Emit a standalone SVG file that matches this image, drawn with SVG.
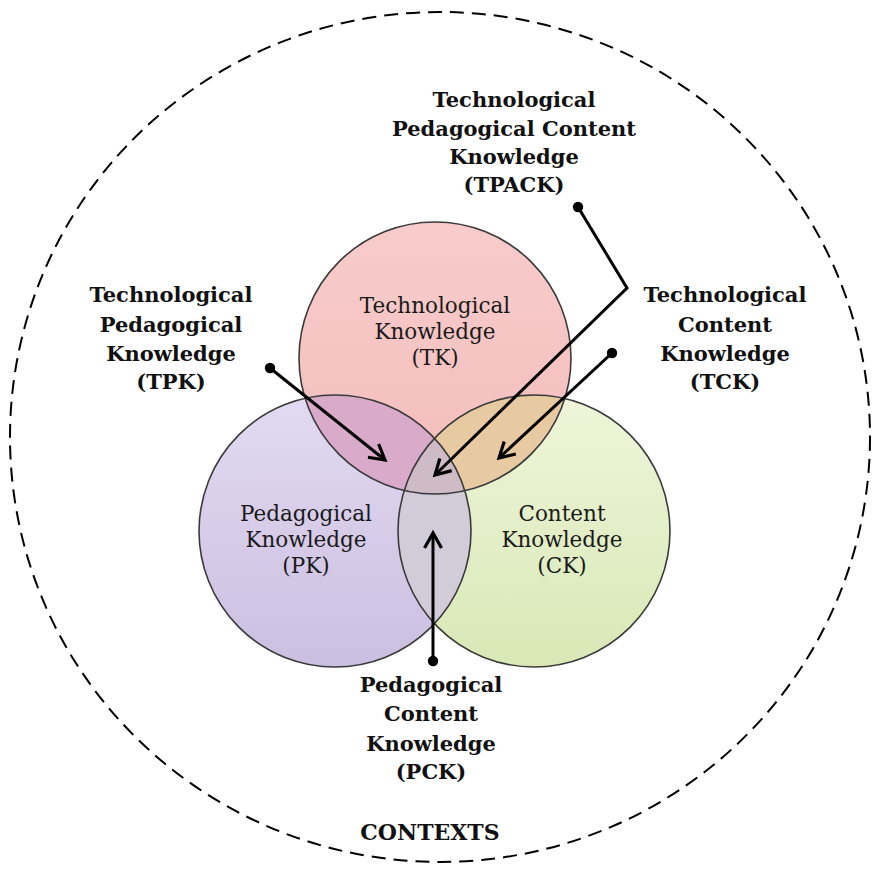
<svg xmlns="http://www.w3.org/2000/svg" width="892" height="870" viewBox="0 0 892 870">
<style>
.lbl{font-family:"DejaVu Serif","Liberation Serif",serif;font-weight:bold;font-size:21px;fill:#111;text-anchor:middle}
.in{font-family:"DejaVu Serif","Liberation Serif",serif;font-size:21.5px;fill:#1a1a1a;text-anchor:middle}
.ring{fill:none;stroke:#3a3a3a;stroke-width:1.6}
.con{fill:none;stroke:#000;stroke-width:3;stroke-linejoin:miter}
</style>
<defs>
<linearGradient id="gTK" x1="0" y1="0" x2="0" y2="1"><stop offset="0" stop-color="#f7cccb"/><stop offset="1" stop-color="#f3bdbb"/></linearGradient>
<linearGradient id="gPK" x1="0" y1="0" x2="0" y2="1"><stop offset="0" stop-color="#e2daf2"/><stop offset="1" stop-color="#cbbfe0"/></linearGradient>
<linearGradient id="gCK" x1="0" y1="0" x2="0" y2="1"><stop offset="0" stop-color="#eef5da"/><stop offset="1" stop-color="#d9e8b6"/></linearGradient>
<marker id="arr" markerUnits="userSpaceOnUse" markerWidth="30" markerHeight="30" refX="0" refY="0" viewBox="-20 -15 30 30" orient="auto">
<path d="M-15,-8.5 L0,0 L-15,8.5" fill="none" stroke="#000" stroke-width="3.2"/>
</marker>
<marker id="dot" markerUnits="userSpaceOnUse" markerWidth="14" markerHeight="14" refX="0" refY="0" viewBox="-7 -7 14 14">
<circle r="5.2" fill="#000"/>
</marker>
</defs>
<rect width="892" height="870" fill="#fff"/>
<ellipse id="contexts-boundary" cx="440" cy="437" rx="430" ry="425" fill="none" stroke="#000" stroke-width="2" stroke-dasharray="14 8"/>
<g id="fills">
<circle cx="435" cy="358" r="136" fill="url(#gTK)"/>
<circle cx="335" cy="531" r="136" fill="url(#gPK)"/>
<circle cx="534" cy="531" r="136" fill="url(#gCK)"/>
<path d="M305.1,398.3 A136,136 0 0 1 464.9,490.7 A136,136 0 0 1 305.1,398.3 Z" fill="#d9aac9"/>
<path d="M404.2,490.4 A136,136 0 0 1 564.8,398.6 A136,136 0 0 1 404.2,490.4 Z" fill="#e7caa2"/>
<path d="M434.5,438.3 A136,136 0 0 1 434.5,623.7 A136,136 0 0 1 434.5,438.3 Z" fill="#d2ccd8"/>
<path d="M434.5,438.3 A136,136 0 0 1 464.9,490.7 A136,136 0 0 1 404.2,490.4 A136,136 0 0 1 434.5,438.3 Z" fill="#cfbbc5"/>
</g>
<g id="TK">
<circle class="ring" cx="435" cy="358" r="136"/>
<text class="in" x="435" y="313">Technological</text>
<text class="in" x="435" y="339">Knowledge</text>
<text class="in" x="435" y="365">(TK)</text>
</g>
<g id="PK">
<circle class="ring" cx="335" cy="531" r="136"/>
<text class="in" x="306" y="521">Pedagogical</text>
<text class="in" x="306" y="547">Knowledge</text>
<text class="in" x="306" y="573">(PK)</text>
</g>
<g id="CK">
<circle class="ring" cx="534" cy="531" r="136"/>
<text class="in" x="562" y="521">Content</text>
<text class="in" x="562" y="547">Knowledge</text>
<text class="in" x="562" y="573">(CK)</text>
</g>
<g id="connectors">
<polyline class="con" points="578,207 627,288 435,475" marker-start="url(#dot)" marker-end="url(#arr)"/>
<line class="con" x1="612" y1="353" x2="499" y2="458" marker-start="url(#dot)" marker-end="url(#arr)"/>
<line class="con" x1="270" y1="368" x2="385" y2="460" marker-start="url(#dot)" marker-end="url(#arr)"/>
<line class="con" x1="433" y1="661" x2="433" y2="533" marker-start="url(#dot)" marker-end="url(#arr)"/>
</g>
<g id="TPACK">
<text class="lbl" x="514" y="107">Technological</text>
<text class="lbl" x="514" y="136">Pedagogical Content</text>
<text class="lbl" x="514" y="164">Knowledge</text>
<text class="lbl" x="514" y="192">(TPACK)</text>
</g>
<g id="TPK">
<text class="lbl" x="171" y="302">Technological</text>
<text class="lbl" x="171" y="332">Pedagogical</text>
<text class="lbl" x="171" y="361">Knowledge</text>
<text class="lbl" x="171" y="389">(TPK)</text>
</g>
<g id="TCK">
<text class="lbl" x="725" y="302">Technological</text>
<text class="lbl" x="725" y="332">Content</text>
<text class="lbl" x="725" y="361">Knowledge</text>
<text class="lbl" x="725" y="389">(TCK)</text>
</g>
<g id="PCK">
<text class="lbl" x="431" y="692">Pedagogical</text>
<text class="lbl" x="431" y="721">Content</text>
<text class="lbl" x="431" y="751">Knowledge</text>
<text class="lbl" x="431" y="779">(PCK)</text>
</g>
<g id="CONTEXTS">
<text class="lbl" x="430" y="840" style="font-size:22px">CONTEXTS</text>
</g>
</svg>
